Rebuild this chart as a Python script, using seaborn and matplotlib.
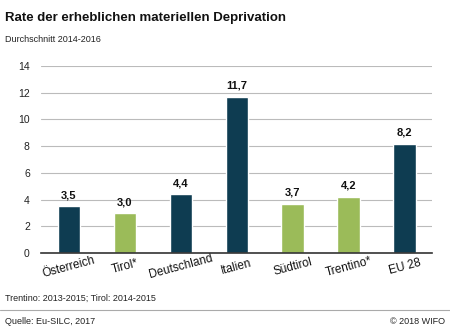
import matplotlib
matplotlib.use("Agg")
import matplotlib.pyplot as plt
import seaborn as sns
import pandas as pd

categories = ["Österreich", "Tirol*", "Deutschland", "Italien", "Südtirol", "Trentino*", "EU 28"]
values = [3.5, 3.0, 4.4, 11.7, 3.7, 4.2, 8.2]
groups = ["national", "regional", "national", "national", "regional", "regional", "national"]
yticks = [0, 2, 4, 6, 8, 10, 12, 14]

palette = {"national": "#0e3c51", "regional": "#9bbb59"}

sns.set_theme(style="white")
plt.rcParams["font.family"] = ["Liberation Sans", "DejaVu Sans"]

df = pd.DataFrame({"cat": categories, "val": values, "grp": groups})

fig = plt.figure(figsize=(4.5, 3.3), dpi=100)
ax = fig.add_axes([0.091, 0.233, 0.870, 0.567])

sns.barplot(data=df, x="cat", y="val", hue="grp", palette=palette, dodge=False,
            width=0.4, legend=False, ax=ax, saturation=1)

ax.set_ylim(0, 14)
ax.set_yticks(yticks)
ax.set_yticklabels([str(t) for t in yticks], fontsize=7.5, color="#222222")
ax.set_xlim(-0.5, len(categories) - 0.5)
ax.grid(axis="y", color="#bbbbbb", linewidth=0.8)
ax.set_axisbelow(True)
for s in ["top", "right", "left"]:
    ax.spines[s].set_visible(False)
ax.spines["bottom"].set_color("#333333")
ax.spines["bottom"].set_linewidth(1.2)
ax.tick_params(axis="y", length=0, pad=8)
ax.tick_params(axis="x", length=0, pad=10)
ax.set_xlabel("")
ax.set_ylabel("")
for lab in ax.get_xticklabels():
    lab.set_rotation(15)
    lab.set_rotation_mode("anchor")
    lab.set_ha("center")
    lab.set_va("center")
    lab.set_fontsize(8.5)
    lab.set_color("#111111")

for i, v in enumerate(values):
    ax.text(i, v + 0.45, f"{v:.1f}".replace(".", ","), ha="center", va="bottom",
            fontsize=8, fontweight="bold", color="#111111")

fig.text(0.011, 0.945, "Rate der erheblichen materiellen Deprivation", fontsize=9.5,
         fontweight="bold", ha="left", va="center", color="#111111")
fig.text(0.011, 0.88, "Durchschnitt 2014-2016", fontsize=6.5, ha="left", va="center", color="#222222")
fig.text(0.011, 0.097, "Trentino: 2013-2015; Tirol: 2014-2015", fontsize=6.5, ha="left", va="center", color="#222222")
fig.add_artist(plt.Line2D([0, 1], [0.06, 0.06], transform=fig.transFigure, color="#aaaaaa", linewidth=0.8))
fig.text(0.011, 0.025, "Quelle: Eu-SILC, 2017", fontsize=6.5, ha="left", va="center", color="#222222")
fig.text(0.99, 0.025, "© 2018 WIFO", fontsize=6.5, ha="right", va="center", color="#222222")

fig.savefig("out.png", dpi=100)
